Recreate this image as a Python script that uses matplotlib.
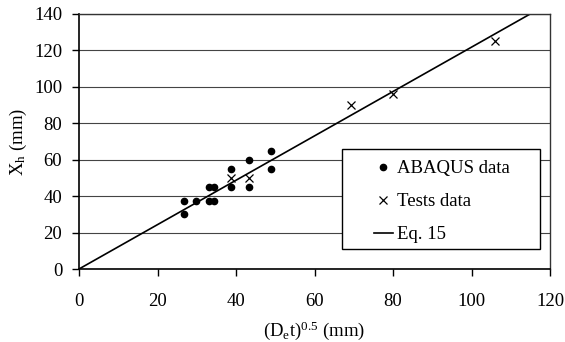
import matplotlib
matplotlib.use("Agg")
import matplotlib.pyplot as plt
from matplotlib.patches import Rectangle

plt.rcParams['font.family'] = ['Liberation Serif', 'DejaVu Serif']
plt.rcParams['mathtext.fontset'] = 'custom'
plt.rcParams['mathtext.rm'] = 'Liberation Serif'
plt.rcParams['mathtext.it'] = 'Liberation Serif'

abaqus_x = [26.7, 26.7, 29.8, 33.2, 34.5, 33.2, 34.5, 38.6, 38.6, 43.3, 43.3, 48.9, 48.9]
abaqus_y = [37.5, 30.0, 37.5, 37.5, 37.5, 45.0, 45.0, 45.0, 55.0, 45.0, 60.0, 55.0, 65.0]
tests_x = [38.6, 43.3, 69.2, 79.9, 106.0]
tests_y = [50.0, 50.0, 90.0, 96.0, 125.2]
eq_slope = 1.218
eq_x = [0, 120]
xticks = [0, 20, 40, 60, 80, 100, 120]
yticks = [0, 20, 40, 60, 80, 100, 120, 140]

W, H = 565, 342
fig = plt.figure(figsize=(W/100, H/100), dpi=100)
ax_l, ax_r, ax_t, ax_b = 79, 550, 14, 269
ax = fig.add_axes([ax_l/W, 1-ax_b/H, (ax_r-ax_l)/W, (ax_b-ax_t)/H])

ax.set_xlim(0, 120)
ax.set_ylim(0, 140)
ax.set_xticks(xticks)
ax.set_yticks(yticks)
ax.yaxis.grid(True, color='#444444', linewidth=0.8)
ax.set_axisbelow(True)

ax.plot(abaqus_x, abaqus_y, 'o', color='black', markersize=4.5, label='ABAQUS data', zorder=3)
ax.plot(tests_x, tests_y, 'x', color='black', markersize=6, markeredgewidth=0.9, label='Tests data', zorder=3)
ax.plot(eq_x, [eq_slope * v for v in eq_x], '-', color='black', linewidth=1.2, label='Eq. 15', zorder=2)

for s in ['left', 'bottom']:
    ax.spines[s].set_linewidth(1.2)
for s in ['top', 'right']:
    ax.spines[s].set_linewidth(1.0)
    ax.spines[s].set_color('#333333')

fs = 13.5
ax.tick_params(axis='x', direction='out', length=5, width=1, labelsize=fs, pad=12, colors='black')
ax.tick_params(axis='y', direction='out', length=5, width=1, labelsize=fs, pad=7, colors='black')
ax.set_xlabel(r'(D$_\mathrm{e}$t)$^{0.5}$ (mm)', fontsize=fs, labelpad=7)
ax.set_ylabel(r'X$_\mathrm{h}$ (mm)', fontsize=fs, labelpad=4)

# legend frame (drawn as box in pixel-derived axes coords)
lx0, lx1, ly0, ly1 = 342, 540, 149, 249
def axx(px): return (px - ax_l) / (ax_r - ax_l)
def axy(py): return (ax_b - py) / (ax_b - ax_t)
frame = Rectangle((axx(lx0), axy(ly1)), axx(lx1) - axx(lx0), axy(ly0) - axy(ly1),
                  transform=ax.transAxes, facecolor='white', edgecolor='black',
                  linewidth=1.0, zorder=4)
ax.add_patch(frame)

leg = ax.legend(loc='upper left', bbox_to_anchor=(axx(374), axy(160)),
                frameon=False, fontsize=fs, handlelength=1.0, handletextpad=0.25,
                borderpad=0, labelspacing=0.85, borderaxespad=0)
leg.set_zorder(5)

fig.savefig('out.png', dpi=100)
